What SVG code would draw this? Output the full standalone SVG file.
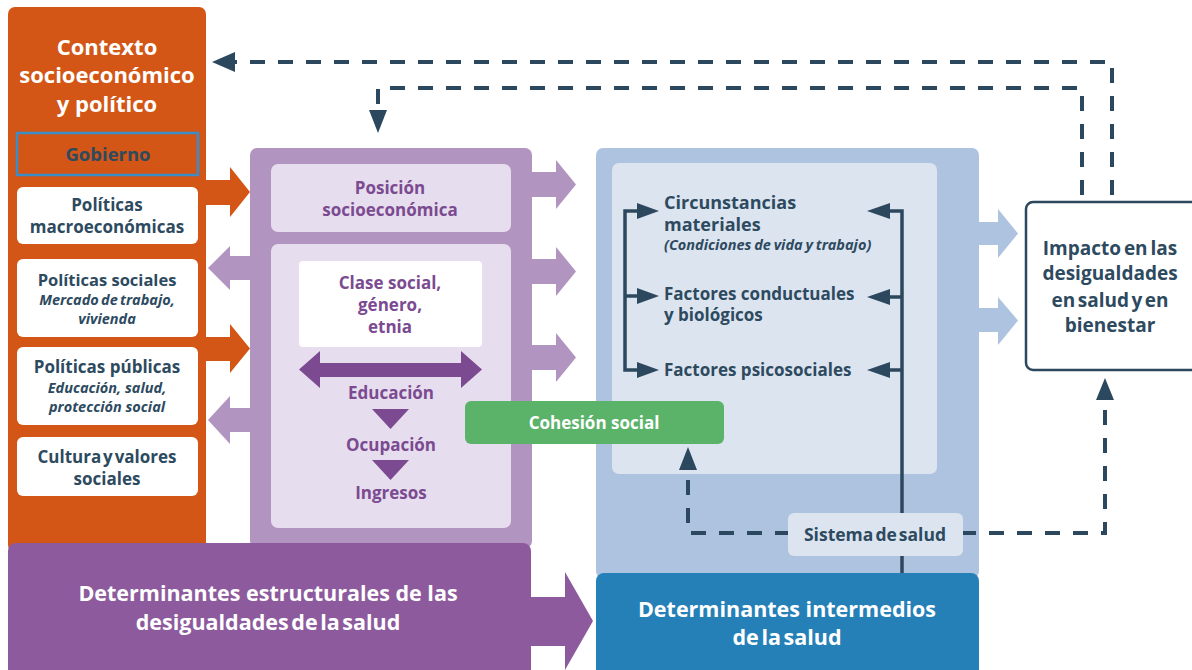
<svg xmlns="http://www.w3.org/2000/svg" width="1192" height="670" viewBox="0 0 1192 670">
<defs>
<style>
text{font-family:"Open Sans","Noto Sans","DejaVu Sans",sans-serif;font-weight:700;text-anchor:middle}
.w{fill:#ffffff}
.d{fill:#2D4A5F}
.p{fill:#7B4A91}
.it{font-style:italic}
.dash{fill:none;stroke:#2C485E;stroke-width:4;stroke-dasharray:15 13}
.ln{fill:none;stroke:#2C485E;stroke-width:3.5}
.ah{fill:#2C485E}
.tl{text-anchor:start}
</style>
</defs>
<rect width="1192" height="670" fill="#ffffff"/>

<g id="contexto">
<rect x="8" y="7" width="198" height="545" rx="7" fill="#D35616"/>
<text class="w" font-size="22" x="107" y="55">Contexto</text>
<text class="w" font-size="22" x="107" y="83">socioeconómico</text>
<text class="w" font-size="22" x="107" y="112">y político</text>
</g>
<g id="gobierno">
<rect x="17" y="133" width="181" height="42" fill="#D35616" stroke="#3A8DC6" stroke-width="2.5"/>
<text class="d" font-size="18.5" x="108" y="161">Gobierno</text>
</g>
<g id="pol-macro">
<rect x="17" y="187" width="181" height="57" rx="6" fill="#ffffff"/>
<text class="d" font-size="17" x="107" y="211">Políticas</text>
<text class="d" font-size="17" x="107" y="233">macroeconómicas</text>
</g>
<g id="pol-sociales">
<rect x="17" y="259" width="181" height="78" rx="6" fill="#ffffff"/>
<text class="d" font-size="16.5" x="107" y="286">Políticas sociales</text>
<text class="d it" font-size="14.5" x="107" y="305" word-spacing="-1.5">Mercado de trabajo,</text>
<text class="d it" font-size="14.5" x="107" y="324">vivienda</text>
</g>
<g id="pol-publicas">
<rect x="17" y="347" width="181" height="78" rx="6" fill="#ffffff"/>
<text class="d" font-size="17" x="107" y="373">Políticas públicas</text>
<text class="d it" font-size="14.5" x="107" y="393">Educación, salud,</text>
<text class="d it" font-size="14.5" x="107" y="412">protección social</text>
</g>
<g id="cultura">
<rect x="17" y="437" width="181" height="59" rx="6" fill="#ffffff"/>
<text class="d" font-size="17" x="107" y="463" word-spacing="-2.5">Cultura y valores</text>
<text class="d" font-size="17" x="107" y="485">sociales</text>
</g>

<g id="estructurales-col">
<rect x="250" y="148" width="282" height="400" rx="7" fill="#B294C1"/>
</g>
<g id="posicion">
<rect x="271" y="164" width="240" height="68" rx="7" fill="#E6DDEE"/>
<text class="p" font-size="17" x="390" y="194">Posición</text>
<text class="p" font-size="17" x="390" y="216">socioeconómica</text>
</g>
<g id="estratificacion">
<rect x="271" y="244" width="240" height="284" rx="7" fill="#E6DDEE"/>
<rect x="299" y="261" width="183" height="86" rx="4" fill="#ffffff"/>
<text class="p" font-size="17" x="390" y="289">Clase social,</text>
<text class="p" font-size="17" x="390" y="311">género,</text>
<text class="p" font-size="17" x="390" y="333">etnia</text>
<polygon points="299,369.5 320,351 320,363 461,363 461,351 482,369.5 461,388 461,377 320,377 320,388" fill="#7B4A91"/>
<text class="p" font-size="17" x="391" y="399">Educación</text>
<polygon points="372,409 409,409 390.5,429" fill="#7B4A91"/>
<text class="p" font-size="17" x="391" y="451">Ocupación</text>
<polygon points="372,460 409,460 390.5,480" fill="#7B4A91"/>
<text class="p" font-size="17" x="391" y="499">Ingresos</text>
</g>

<g id="intermedios-col">
<rect x="596" y="148" width="383" height="430" rx="7" fill="#AEC3DF"/>
<rect x="612" y="163" width="325" height="311" rx="7" fill="#DCE4F0"/>
<text class="d tl" font-size="18" x="664" y="209">Circunstancias</text>
<text class="d tl" font-size="18" x="664" y="231">materiales</text>
<text class="d tl it" font-size="14.5" x="664" y="250" word-spacing="-1">(Condiciones de vida y trabajo)</text>
<text class="d tl" font-size="17" x="664" y="300">Factores conductuales</text>
<text class="d tl" font-size="17" x="664" y="321">y biológicos</text>
<text class="d tl" font-size="17" x="664" y="376">Factores psicosociales</text>
</g>

<g id="connectors">
<polygon points="206,180 230,180 230,167 250,192 230,217 230,205 206,205" fill="#D35616"/>
<polygon points="206,337 230,337 230,324 250,348.5 230,373 230,361 206,361" fill="#D35616"/>
<polygon points="250,256 230,256 230,246 208,268 230,290 230,280 250,280" fill="#B294C1"/>
<polygon points="250,408 230,408 230,396 208,420 230,444 230,432 250,432" fill="#B294C1"/>
<polygon points="532,172 556,172 556,160 576,184.5 556,209 556,197 532,197" fill="#B294C1"/>
<polygon points="532,259 556,259 556,247 576,271.5 556,296 556,284 532,284" fill="#B294C1"/>
<polygon points="532,345 556,345 556,333 576,357.5 556,382 556,370 532,370" fill="#B294C1"/>
<polygon points="978,222 998,222 998,209 1018,233.5 998,258 998,245 978,245" fill="#AEC3DF"/>
<polygon points="978,308 998,308 998,297 1018,320.5 998,345 998,332 978,332" fill="#AEC3DF"/>
<path class="ln" d="M640 211 H625 V370 H640 M625 296 H640"/>
<polygon class="ah" points="637,203 659,211 637,219"/>
<polygon class="ah" points="637,288 659,296 637,304"/>
<polygon class="ah" points="637,362 659,370 637,378"/>
<path class="ln" d="M902 574 V211 H888 M902 297 H888 M902 370 H888"/>
<polygon class="ah" points="890,203 867,211 890,219"/>
<polygon class="ah" points="890,289 867,297 890,305"/>
<polygon class="ah" points="890,362 867,370 890,378"/>
<path class="dash" d="M1112 195 V62 H232"/>
<polygon class="ah" points="235,52 212,62 235,72"/>
<path class="dash" d="M1082 195 V88 H378 V112"/>
<polygon class="ah" points="369,110 387,110 378,133"/>
<path class="dash" d="M790 533 H688 V468"/>
<polygon class="ah" points="679,470 697,470 688,447"/>
<path class="dash" d="M961 533 H1105 V398"/>
<polygon class="ah" points="1096,400 1114,400 1105,378"/>
<polygon points="530,597 565,597 565,572 593,621 565,670 565,646 530,646" fill="#8D5B9D"/>
</g>

<g id="cohesion">
<rect x="465" y="401" width="259" height="43" rx="6" fill="#5BB36A"/>
<text class="w" font-size="17" x="594" y="429">Cohesión social</text>
</g>

<g id="sistema-salud">
<rect x="788" y="513" width="175" height="43" rx="6" fill="#DCE4F0"/>
<text class="d" font-size="17.5" x="875" y="541" word-spacing="-2.5">Sistema de salud</text>
</g>

<g id="impacto">
<rect x="1026" y="202" width="176" height="168" rx="7" fill="#ffffff" stroke="#2C485E" stroke-width="2.5"/>
<text class="d" font-size="19" x="1110" y="255" word-spacing="-2">Impacto en las</text>
<text class="d" font-size="19" x="1110" y="280">desigualdades</text>
<text class="d" font-size="19" x="1110" y="307" word-spacing="-2.5">en salud y en</text>
<text class="d" font-size="19" x="1110" y="332">bienestar</text>
</g>

<g id="det-estructurales">
<rect x="8" y="543" width="523" height="140" rx="8" fill="#8D5B9D"/>
<text class="w" font-size="21.5" x="268" y="601">Determinantes estructurales de las</text>
<text class="w" font-size="21.5" x="268" y="630" word-spacing="-3">desigualdades de la salud</text>
</g>

<g id="det-intermedios">
<rect x="596" y="573" width="383" height="110" rx="8" fill="#2680B8"/>
<text class="w" font-size="21.5" x="787" y="617">Determinantes intermedios</text>
<text class="w" font-size="21.5" x="787" y="645" word-spacing="-3">de la salud</text>
</g>
</svg>
